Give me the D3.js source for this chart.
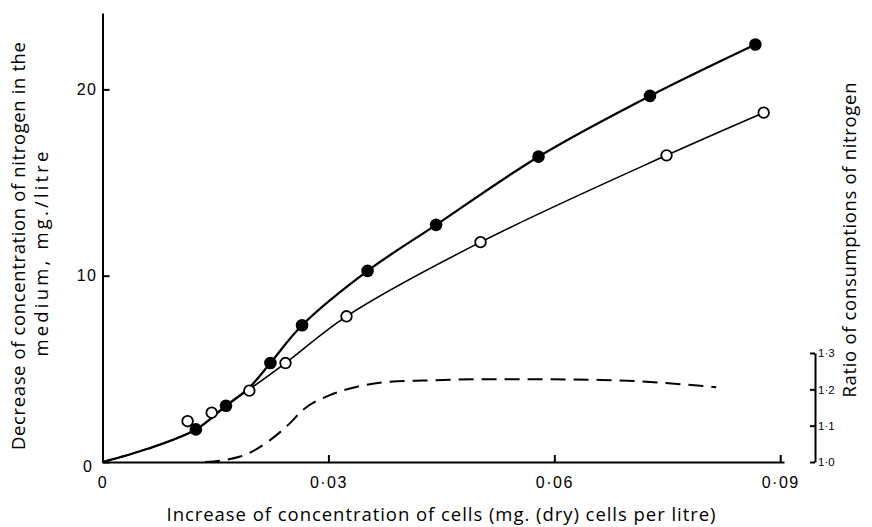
<!DOCTYPE html>
<html>
<head>
<meta charset="utf-8">
<script src="https://cdn.jsdelivr.net/npm/d3@7"></script>
<style>
  body { margin: 0; background: #fff; }
  svg { display: block; font-family: "Open Sans", Lato, sans-serif; }
  .axis path, .axis line { stroke: #000; stroke-width: 2; }
  .axis text { fill: #000; }
</style>
</head>
<body>
<svg id="chart" width="872" height="527"></svg>
<script>
// closed circles
var cellsFilled = [0.0124, 0.0164, 0.0223, 0.0265, 0.0352, 0.0443, 0.0579, 0.0727, 0.0867];
var nitrogenFilled = [1.75, 3.02, 5.31, 7.34, 10.26, 12.73, 16.39, 19.65, 22.41];
// open circles
var cellsOpen = [0.0113, 0.0145, 0.0195, 0.0243, 0.0324, 0.0502, 0.0749, 0.0878];
var nitrogenOpen = [2.19, 2.65, 3.83, 5.31, 7.82, 11.80, 16.46, 18.75];

// hand-drawn fitted curves
var curveFilledX = [0, 0.006, 0.0124, 0.0164, 0.0195, 0.0223, 0.0265, 0.0352, 0.0443, 0.0579, 0.0727, 0.0867];
var curveFilledY = [0, 0.71, 1.75, 3.02, 4.0, 5.31, 7.34, 10.26, 12.73, 16.39, 19.65, 22.41];
var curveOpenX = [0, 0.006, 0.0124, 0.0164, 0.0195, 0.0243, 0.0324, 0.0502, 0.0749, 0.0878];
var curveOpenY = [0, 0.71, 1.75, 3.02, 3.9, 5.31, 7.82, 11.80, 16.46, 18.75];

// ratio of consumptions (dashed, right axis)
var ratioX = [0.0136, 0.0183, 0.0223, 0.0249, 0.0266, 0.0302, 0.0338, 0.0382, 0.0426, 0.0515, 0.0553, 0.0661, 0.0815];
var ratioY = [1.0, 1.015, 1.061, 1.107, 1.143, 1.184, 1.207, 1.221, 1.224, 1.228, 1.228, 1.226, 1.206];

var xTicks = [0, 0.03, 0.06, 0.09];
var yTicks = [0, 10, 20];
var rTicks = [1.0, 1.1, 1.2, 1.3];

var svg = d3.select("#chart");

var x = d3.scaleLinear().domain([0, 0.0905]).range([102.5, 784]);
var y = d3.scaleLinear().domain([0, 24.1]).range([462, 13]);
var r = d3.scaleLinear().domain([1.0, 1.3]).range([462, 353]);

var zip = (a, b) => a.map((v, i) => [v, b[i]]);
var dot = s => s.replace(".", "\u00b7");

svg.append("g")
  .attr("class", "axis")
  .attr("transform", "translate(0,462)")
  .call(d3.axisBottom(x).tickValues(xTicks).tickSizeInner(-7).tickSizeOuter(0).tickPadding(15)
    .tickFormat(d => d === 0 ? "0" : dot(d3.format(".2f")(d))))
  .call(g => g.selectAll("text").style("font-size", "16px").style("letter-spacing", "1.5px"));

svg.append("g")
  .attr("class", "axis")
  .attr("transform", "translate(102.5,0)")
  .call(d3.axisLeft(y).tickValues(yTicks).tickSizeInner(-7).tickSizeOuter(0).tickPadding(5))
  .call(g => g.selectAll("text").style("font-size", "16px").style("letter-spacing", "1.5px"))
  .call(g => g.select(".tick text").attr("x", -9).attr("dy", "0.6em"));

svg.append("g")
  .attr("class", "axis")
  .attr("transform", "translate(815,0)")
  .call(d3.axisRight(r).tickValues(rTicks).tickSizeInner(-5).tickSizeOuter(0).tickPadding(3)
    .tickFormat(d => dot(d3.format(".1f")(d))))
  .call(g => g.selectAll("text").style("font-size", "11.5px"));

var line = d3.line()
  .x(d => x(d[0]))
  .y(d => y(d[1]))
  .curve(d3.curveCatmullRom.alpha(0.5));

svg.append("path")
  .datum(zip(curveOpenX, curveOpenY))
  .attr("d", line)
  .attr("fill", "none")
  .attr("stroke", "#000")
  .attr("stroke-width", 1.6);

svg.append("path")
  .datum(zip(curveFilledX, curveFilledY))
  .attr("d", line)
  .attr("fill", "none")
  .attr("stroke", "#000")
  .attr("stroke-width", 2.3);

svg.append("path")
  .datum(zip(ratioX, ratioY))
  .attr("d", d3.line().x(d => x(d[0])).y(d => r(d[1])).curve(d3.curveMonotoneX))
  .attr("fill", "none")
  .attr("stroke", "#000")
  .attr("stroke-width", 2)
  .attr("stroke-dasharray", "15,8");

svg.selectAll(".open").data(zip(cellsOpen, nitrogenOpen))
  .enter().append("circle")
  .attr("class", "open")
  .attr("cx", d => x(d[0]))
  .attr("cy", d => y(d[1]))
  .attr("r", 5.3)
  .attr("fill", "#fff")
  .attr("stroke", "#000")
  .attr("stroke-width", 1.8);

svg.selectAll(".filled").data(zip(cellsFilled, nitrogenFilled))
  .enter().append("circle")
  .attr("class", "filled")
  .attr("cx", d => x(d[0]))
  .attr("cy", d => y(d[1]))
  .attr("r", 6.3)
  .attr("fill", "#000");

function title(tx, ty, rot, len, s) {
  svg.append("text")
    .attr("transform", "translate(" + tx + "," + ty + ")" + (rot ? " rotate(-90)" : ""))
    .attr("text-anchor", "middle")
    .attr("dy", rot ? "0.35em" : null)
    .attr("textLength", len)
    .attr("lengthAdjust", "spacing")
    .style("font-size", "18.5px")
    .text(s);
}

title(19, 246, true, 408, "Decrease of concentration of nitrogen in the");
title(42, 254, true, 205, "medium, mg./litre");
title(850, 240, true, 315, "Ratio of consumptions of nitrogen");
title(441, 521, false, 549, "Increase of concentration of cells (mg. (dry) cells per litre)");
</script>
</body>
</html>
